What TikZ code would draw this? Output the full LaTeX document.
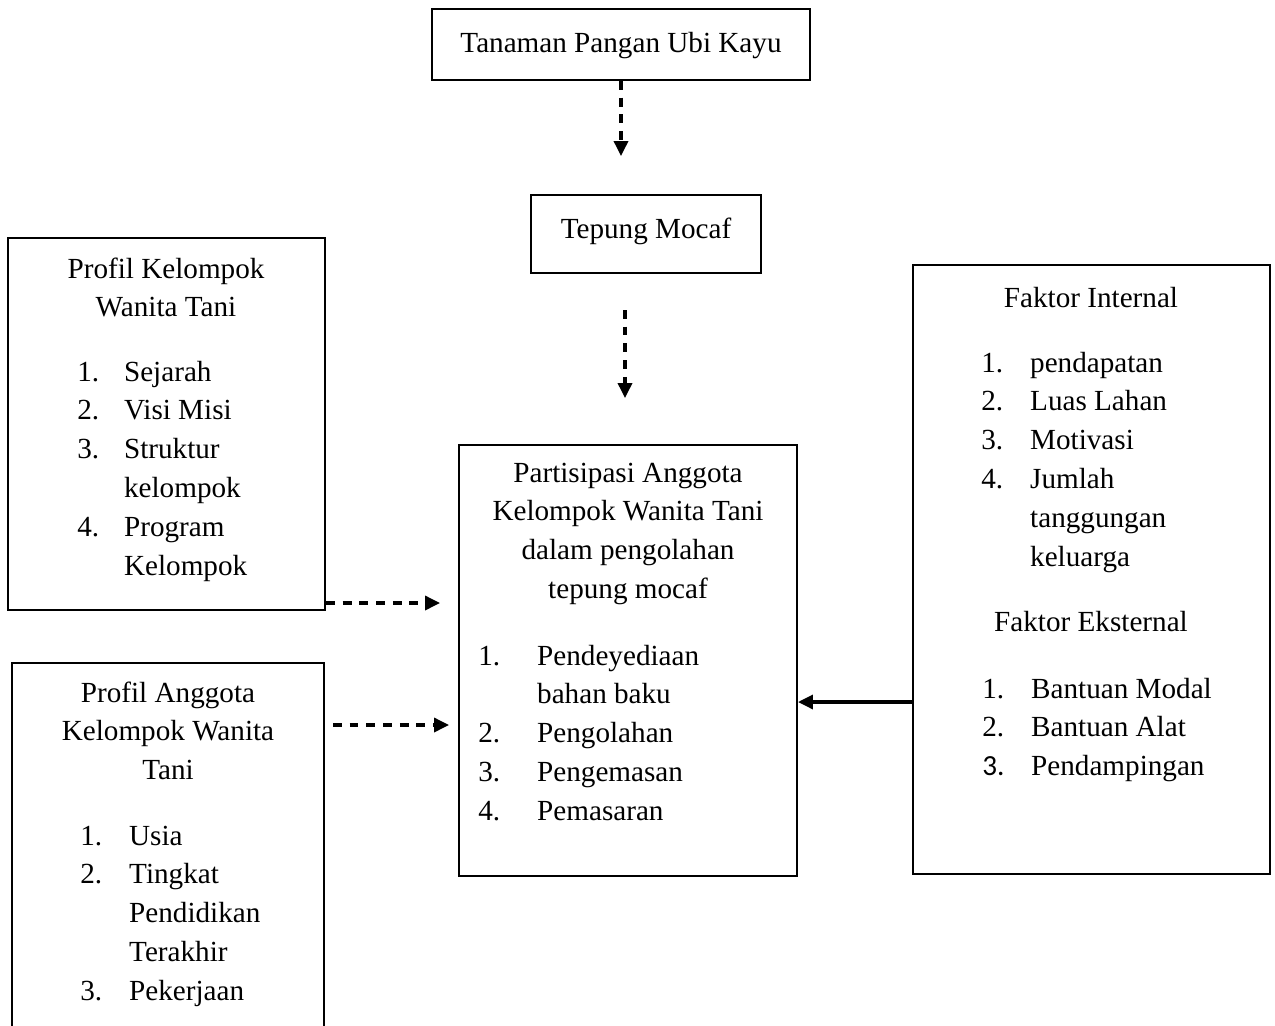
\documentclass[tikz,border=0pt]{standalone}
\usepackage{fontspec}
\setmainfont{Liberation Serif}
\newfontfamily\calibri{Carlito}
\usetikzlibrary{arrows.meta}

\tikzset{
  kotak/.style={draw, line width=1.2pt, inner sep=0pt},
  teks/.style={anchor=base, inner sep=0pt, font=\fontsize{16.6}{22.1}\selectfont},
  panah/.style={line width=1.8pt, -{Triangle[length=8.5pt,width=8pt]}},
  putus/.style={panah, dash pattern=on 5pt off 4.5pt}
}

\begin{document}
\begin{tikzpicture}[x=0.02cm, y=-0.02cm]
  \useasboundingbox (0,0) rectangle (1275,1025);
  \clip (0,0) rectangle (1275,1025);

  % the boxes
  \node[kotak, minimum width=7.56cm, minimum height=1.42cm] (tanaman) at (621,44.5) {};
  \node[kotak, minimum width=4.6cm, minimum height=1.56cm] (mocaf) at (646,234) {};
  \node[kotak, minimum width=6.34cm, minimum height=7.44cm] (profilkel) at (166.5,424) {};
  \node[kotak, minimum width=6.24cm, minimum height=7.64cm] (profilang) at (168,854) {};
  \node[kotak, minimum width=6.76cm, minimum height=8.62cm] (partisipasi) at (628,660.5) {};
  \node[kotak, minimum width=7.14cm, minimum height=12.18cm] (faktor) at (1091.5,569.5) {};

  % texts
  \node[teks] (tanamantxt) at (621,52) {Tanaman Pangan Ubi Kayu};
  \node[teks] (mocaftxt) at (646,238) {Tepung Mocaf};

  \node[teks] (profilkeltxt) at (166,278)
    {\begin{tabular}[t]{@{}c@{}}Profil Kelompok\\Wanita Tani\end{tabular}};
  \node[teks, anchor=base west] (profilkellist) at (77,381)
    {\begin{tabular}[t]{@{}p{26.6pt}@{}l@{}}1.&Sejarah\\2.&Visi Misi\\3.&Struktur\\&kelompok\\4.&Program\\&Kelompok\end{tabular}};

  \node[teks] (profilangtxt) at (168,702)
    {\begin{tabular}[t]{@{}c@{}}Profil Anggota\\Kelompok Wanita\\Tani\end{tabular}};
  \node[teks, anchor=base west] (profilanglist) at (80,845)
    {\begin{tabular}[t]{@{}p{27.8pt}@{}l@{}}1.&Usia\\2.&Tingkat\\&Pendidikan\\&Terakhir\\3.&Pekerjaan\end{tabular}};

  \node[teks] (partisipasitxt) at (628,482)
    {\begin{tabular}[t]{@{}c@{}}Partisipasi Anggota\\Kelompok Wanita Tani\\dalam pengolahan\\tepung mocaf\end{tabular}};
  \node[teks, anchor=base west] (partisipasilist) at (478,665)
    {\begin{tabular}[t]{@{}p{33.5pt}@{}l@{}}1.&Pendeyediaan\\&bahan baku\\2.&Pengolahan\\3.&Pengemasan\\4.&Pemasaran\end{tabular}};

  \node[teks] (internaltxt) at (1091,307) {Faktor Internal};
  \node[teks, anchor=base west] (internallist) at (981,372)
    {\begin{tabular}[t]{@{}p{27.8pt}@{}l@{}}1.&pendapatan\\2.&Luas Lahan\\3.&Motivasi\\4.&Jumlah\\&tanggungan\\&keluarga\end{tabular}};
  \node[teks] (eksternaltxt) at (1091,631) {Faktor Eksternal};
  \node[teks, anchor=base west] (eksternallist) at (982,698)
    {\begin{tabular}[t]{@{}p{27.8pt}@{}l@{}}1.&Bantuan Modal\\2.&Bantuan Alat\\{\calibri 3.}&Pendampingan\end{tabular}};

  % the arrows
  \coordinate (a1) at (621,156);
  \coordinate (m1) at (625,310);
  \coordinate (m2) at (625,398);
  \coordinate (k1) at (440,603);
  \coordinate (g0) at (333,725);
  \coordinate (g1) at (449,725);
  \coordinate (f1) at (0,702);
  \draw[putus] (tanaman) -- (a1);
  \draw[putus] (m1) -- (m2);
  \draw[putus] (profilkel.east |- k1) -- (k1);
  \draw[putus] (g0) -- (g1);
  \draw[panah] (faktor.west |- f1) -- (partisipasi.east |- f1);
\end{tikzpicture}
\end{document}
